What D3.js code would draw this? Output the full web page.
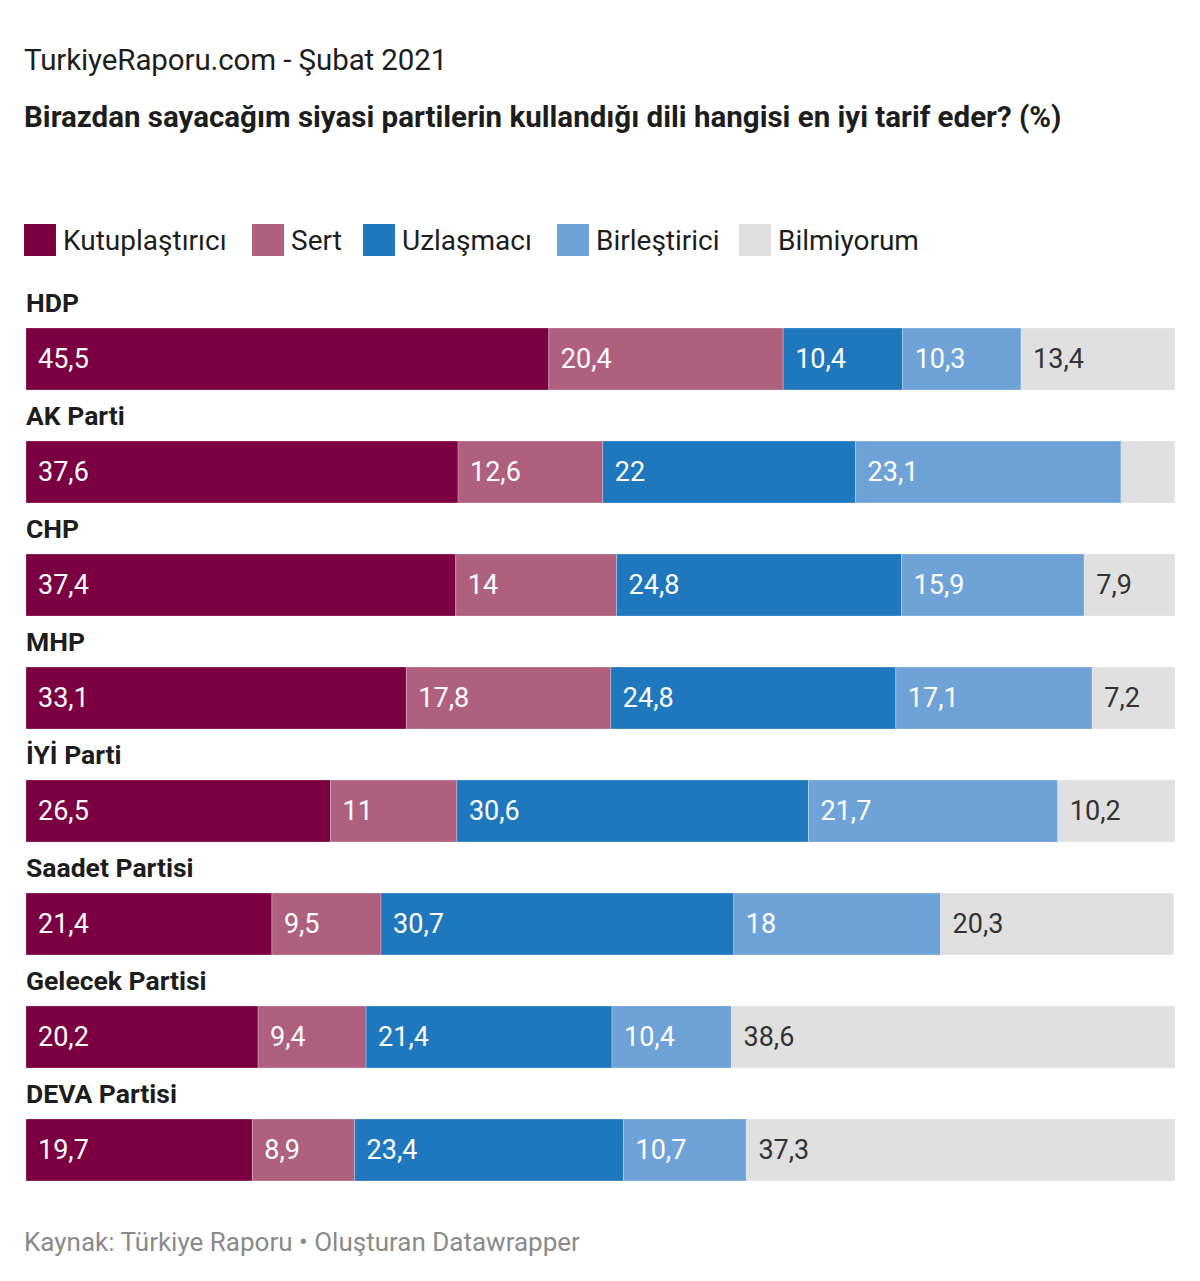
<!DOCTYPE html>
<html>
<head>
<meta charset="utf-8">
<script src="https://cdn.jsdelivr.net/npm/d3@7"></script>
<style>
  body { margin: 0; background: #fff; font-family: Roboto, sans-serif; }
</style>
</head>
<body>
<div id="chart"></div>
<script>
// data
var parties = ["HDP", "AK Parti", "CHP", "MHP", "İYİ Parti", "Saadet Partisi", "Gelecek Partisi", "DEVA Partisi"];
var series = ["Kutuplaştırıcı", "Sert", "Uzlaşmacı", "Birleştirici", "Bilmiyorum"];
var kutuplastirici = [45.5, 37.6, 37.4, 33.1, 26.5, 21.4, 20.2, 19.7];
var sert = [20.4, 12.6, 14, 17.8, 11, 9.5, 9.4, 8.9];
var uzlasmaci = [10.4, 22, 24.8, 24.8, 30.6, 30.7, 21.4, 23.4];
var birlestirici = [10.3, 23.1, 15.9, 17.1, 21.7, 18, 10.4, 10.7];
var bilmiyorum = [13.4, 4.7, 7.9, 7.2, 10.2, 20.3, 38.6, 37.3];

var colors = ["#7b0041", "#b0607f", "#1f78be", "#6fa3d7", "#e0e0e0"];
var labelColors = ["#fff", "#fff", "#fff", "#fff", "#333"];

var width = 1200, height = 1281;
var svg = d3.select("#chart").append("svg")
  .attr("width", width)
  .attr("height", height);

// header
svg.append("text")
  .attr("x", 24).attr("y", 70)
  .attr("font-size", 29.5).attr("fill", "#1d1d1d")
  .attr("letter-spacing", -0.1)
  .text("TurkiyeRaporu.com - Şubat 2021");

svg.append("text")
  .attr("x", 24).attr("y", 127)
  .attr("font-size", 29.5).attr("font-weight", 700).attr("fill", "#1d1d1d")
  .text("Birazdan sayacağım siyasi partilerin kullandığı dili hangisi en iyi tarif eder? (%)");

// legend
var legendX = [24, 252, 363, 557, 739];
var legend = svg.append("g").selectAll("g")
  .data(series)
  .join("g")
  .attr("transform", function (d, i) { return "translate(" + legendX[i] + ",224)"; });
legend.append("rect")
  .attr("width", 32).attr("height", 32)
  .attr("fill", function (d, i) { return colors[i]; });
legend.append("text")
  .attr("x", 39).attr("y", 26)
  .attr("font-size", 28).attr("fill", "#1d1d1d")
  .text(function (d) { return d; });

// scales
var x = d3.scaleLinear().domain([0, 100]).range([26, 1175]);
var rowY = d3.scaleBand().domain(parties).range([328, 328 + 113 * 8]).paddingInner(0);
var barH = 62;

var values = [kutuplastirici, sert, uzlasmaci, birlestirici, bilmiyorum];
var rows = parties.map(function (p, i) {
  var acc = 0;
  var segs = values.map(function (arr, k) {
    var s = { party: p, k: k, v: arr[i], x0: acc, x1: acc + arr[i] };
    acc += arr[i];
    return s;
  });
  return { party: p, segs: segs };
});

var row = svg.append("g").selectAll("g")
  .data(rows)
  .join("g")
  .attr("transform", function (d) { return "translate(0," + rowY(d.party) + ")"; });

row.append("text")
  .attr("x", 26).attr("y", -16)
  .attr("font-size", 26.5).attr("font-weight", 700).attr("fill", "#1d1d1d")
  .text(function (d) { return d.party; });

var seg = row.selectAll("g.seg")
  .data(function (d) { return d.segs; })
  .join("g").attr("class", "seg");

seg.append("rect")
  .attr("x", function (d) { return x(d.x0); })
  .attr("width", function (d) { return x(d.x1) - x(d.x0); })
  .attr("height", barH)
  .attr("fill", function (d) { return colors[d.k]; })
  .attr("stroke", "#fff").attr("stroke-opacity", 0.25).attr("stroke-width", 1);

seg.filter(function (d) { return x(d.x1) - x(d.x0) > 65; })
  .append("text")
  .attr("x", function (d) { return x(d.x0) + 12; })
  .attr("y", 40)
  .attr("font-size", 27)
  .attr("fill", function (d) { return labelColors[d.k]; })
  .text(function (d) { return String(d.v).replace(".", ","); });

// footer
svg.append("text")
  .attr("x", 24).attr("y", 1251)
  .attr("font-size", 26).attr("fill", "#8a8a8a")
  .text("Kaynak: Türkiye Raporu • Oluşturan Datawrapper");
</script>
</body>
</html>
